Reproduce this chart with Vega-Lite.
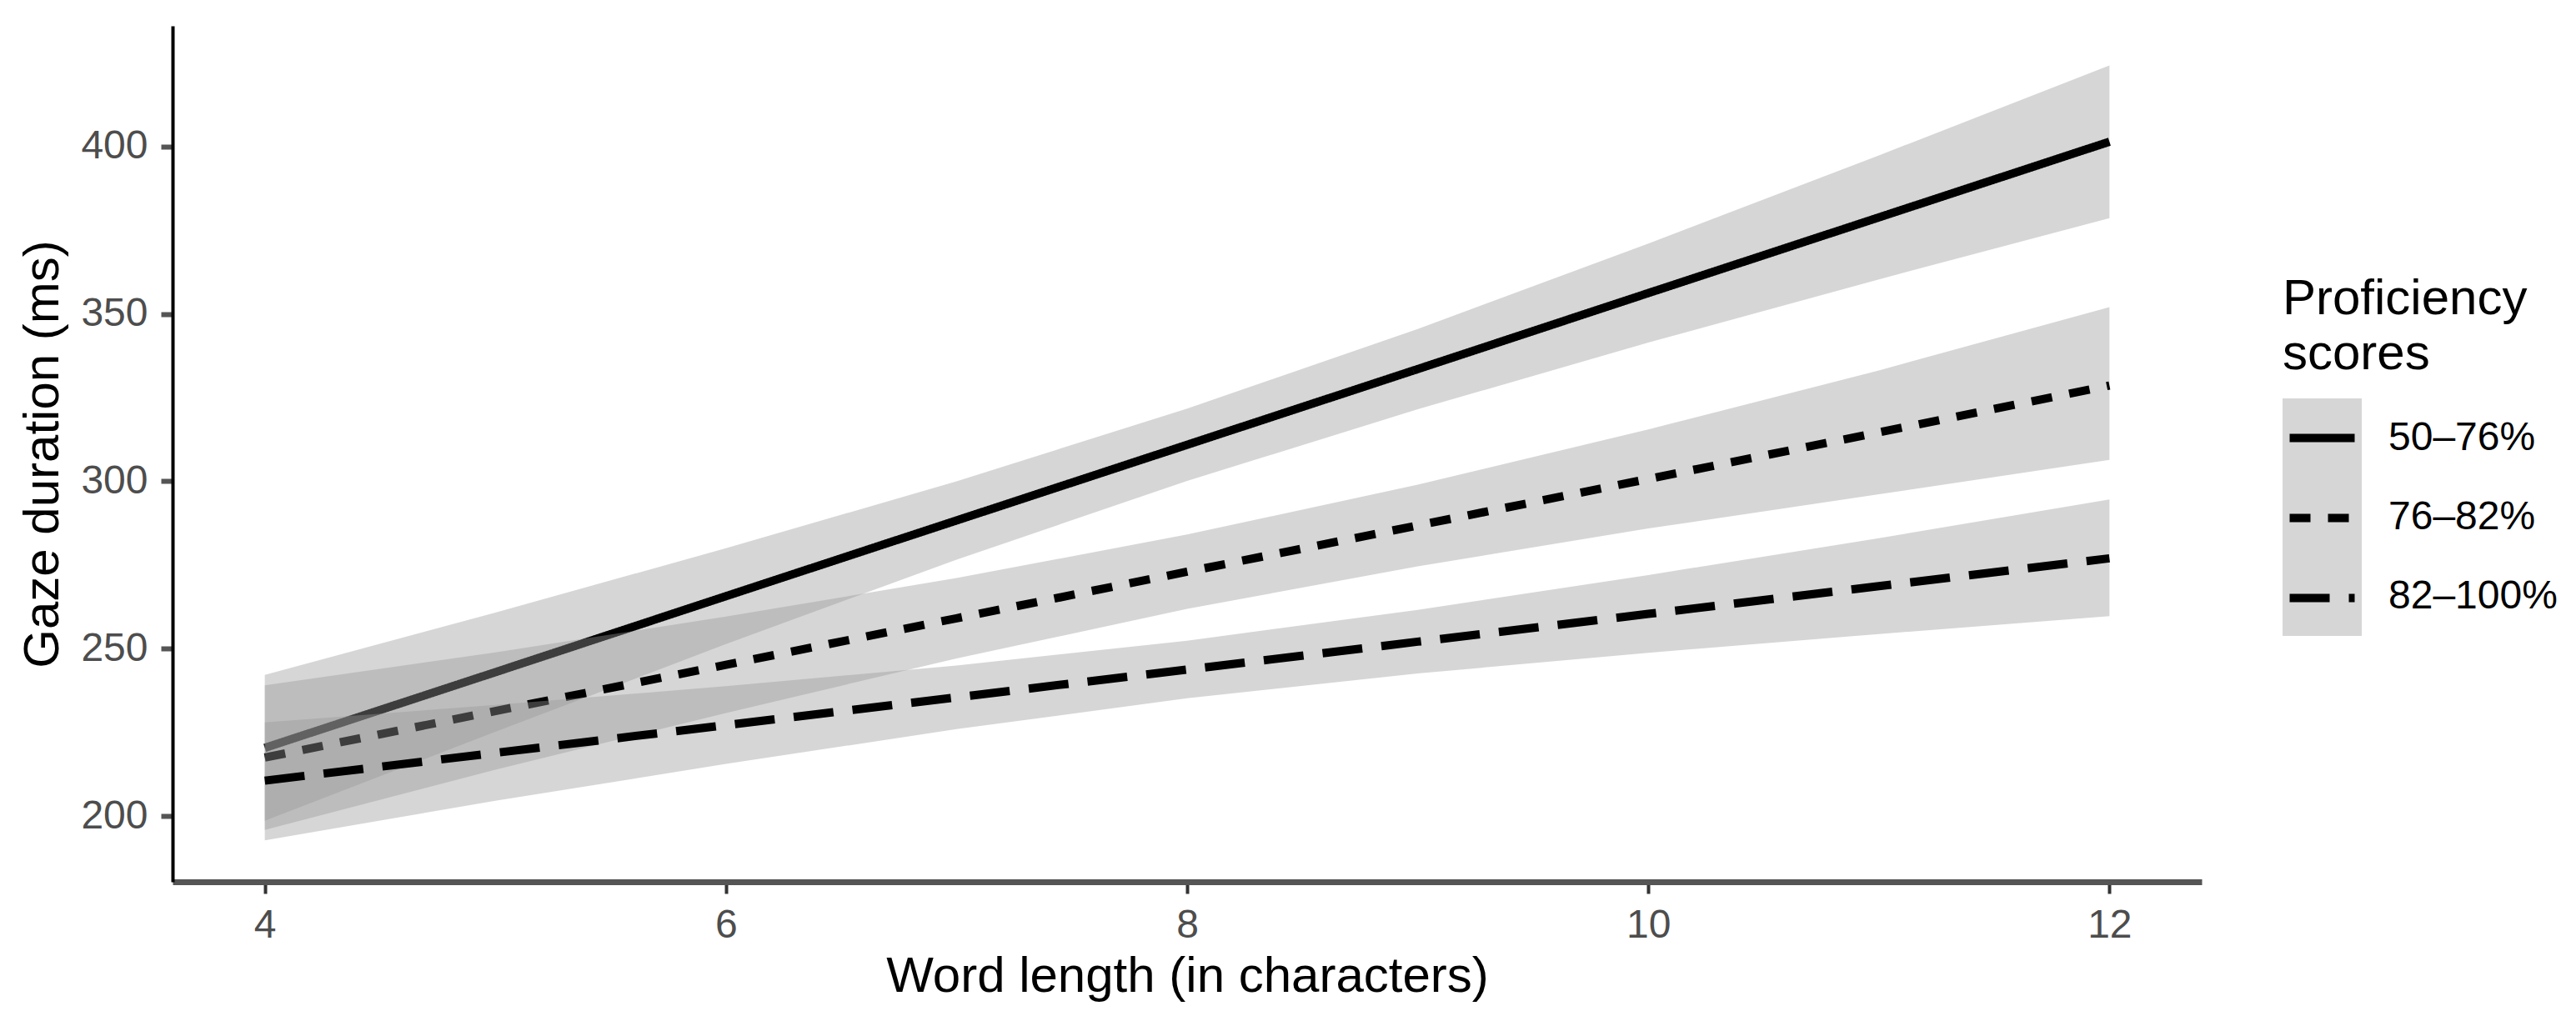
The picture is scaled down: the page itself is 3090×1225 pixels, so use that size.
{
  "$schema": "https://vega.github.io/schema/vega-lite/v6.json",
  "width": 2434,
  "height": 1027,
  "autosize": {"type": "none"},
  "padding": {"left": 207, "top": 31, "right": 449, "bottom": 167},
  "background": "white",
  "config": {
    "view": {"stroke": null},
    "font": "Liberation Sans",
    "axis": {
      "grid": false,
      "labelFont": "Liberation Sans",
      "titleFont": "Liberation Sans",
      "labelFontSize": 48,
      "labelColor": "#4d4d4d",
      "titleFontSize": 60,
      "titleFontWeight": "normal",
      "titleColor": "#000000",
      "tickSize": 14
    },
    "axisX": {
      "domainColor": "#555555",
      "domainWidth": 7,
      "tickColor": "#333333",
      "tickWidth": 4,
      "labelPadding": 14,
      "titleY": 131.5,
      "titleBaseline": "alphabetic"
    },
    "axisY": {
      "domainColor": "#000000",
      "domainWidth": 4,
      "tickColor": "#555555",
      "tickWidth": 6,
      "labelPadding": 16,
      "titleX": -138,
      "titleY": 513.5,
      "titleBaseline": "alphabetic"
    }
  },
  "data": {
    "values": [
      {"group": "50–76%", "x": 4, "fit": 220.4, "lo": 198.6, "hi": 242.2},
      {"group": "50–76%", "x": 5, "fit": 243.0, "lo": 225.2, "hi": 260.8},
      {"group": "50–76%", "x": 6, "fit": 265.7, "lo": 251.4, "hi": 280.0},
      {"group": "50–76%", "x": 7, "fit": 288.3, "lo": 276.6, "hi": 300.0},
      {"group": "50–76%", "x": 8, "fit": 310.9, "lo": 300.1, "hi": 321.7},
      {"group": "50–76%", "x": 9, "fit": 333.5, "lo": 321.5, "hi": 345.5},
      {"group": "50–76%", "x": 10, "fit": 356.2, "lo": 341.4, "hi": 371.0},
      {"group": "50–76%", "x": 11, "fit": 378.8, "lo": 360.3, "hi": 397.3},
      {"group": "50–76%", "x": 12, "fit": 401.4, "lo": 378.6, "hi": 424.2},
      {"group": "76–82%", "x": 4, "fit": 217.5, "lo": 195.9, "hi": 239.1},
      {"group": "76–82%", "x": 5, "fit": 231.4, "lo": 213.9, "hi": 248.9},
      {"group": "76–82%", "x": 6, "fit": 245.2, "lo": 230.8, "hi": 259.6},
      {"group": "76–82%", "x": 7, "fit": 259.1, "lo": 247.1, "hi": 271.1},
      {"group": "76–82%", "x": 8, "fit": 273.0, "lo": 261.9, "hi": 284.1},
      {"group": "76–82%", "x": 9, "fit": 286.8, "lo": 274.6, "hi": 299.0},
      {"group": "76–82%", "x": 10, "fit": 300.7, "lo": 285.9, "hi": 315.5},
      {"group": "76–82%", "x": 11, "fit": 314.6, "lo": 296.1, "hi": 333.1},
      {"group": "76–82%", "x": 12, "fit": 328.6, "lo": 306.4, "hi": 352.0},
      {"group": "82–100%", "x": 4, "fit": 210.6, "lo": 192.8, "hi": 228.0},
      {"group": "82–100%", "x": 5, "fit": 218.9, "lo": 204.6, "hi": 233.2},
      {"group": "82–100%", "x": 6, "fit": 227.2, "lo": 215.6, "hi": 238.8},
      {"group": "82–100%", "x": 7, "fit": 235.5, "lo": 226.0, "hi": 245.0},
      {"group": "82–100%", "x": 8, "fit": 243.8, "lo": 235.2, "hi": 252.4},
      {"group": "82–100%", "x": 9, "fit": 252.1, "lo": 242.6, "hi": 261.6},
      {"group": "82–100%", "x": 10, "fit": 260.4, "lo": 248.8, "hi": 272.0},
      {"group": "82–100%", "x": 11, "fit": 268.7, "lo": 254.4, "hi": 283.0},
      {"group": "82–100%", "x": 12, "fit": 277.0, "lo": 259.7, "hi": 294.6}
    ]
  },
  "layer": [
    {
      "transform": [{"filter": {"field": "group", "equal": "50–76%"}}],
      "mark": {"type": "area", "opacity": 0.4},
      "encoding": {
        "x": {"field": "x", "type": "quantitative", "scale": {"domain": [3.6, 12.4], "nice": false, "zero": false}, "axis": {"values": [4, 6, 8, 10, 12], "format": "d", "title": "Word length (in characters)"}},
        "y": {"field": "lo", "type": "quantitative", "scale": {"domain": [180.4, 436], "nice": false, "zero": false}, "axis": {"values": [200, 250, 300, 350, 400], "format": "d", "title": "Gaze duration (ms)"}},
        "y2": {"field": "hi"},
        "fill": {
          "field": "group", "type": "nominal",
          "scale": {"domain": ["50–76%", "76–82%", "82–100%"], "range": ["#999999", "#999999", "#999999"]},
          "legend": {
            "title": ["Proficiency", "scores"],
            "orient": "none", "legendX": 2531, "legendY": 299, "padding": 0,
            "symbolType": "square", "symbolSize": 9025, "symbolStrokeWidth": 0, "symbolOpacity": 0.4,
            "rowPadding": 0,
            "titleFont": "Liberation Sans", "titleFontSize": 60, "titleFontWeight": "normal", "titleColor": "#000000",
            "titleLineHeight": 66, "titlePadding": 22, "titleLimit": 1000,
            "labelFont": "Liberation Sans", "labelFontSize": 48, "labelColor": "#000000", "labelOffset": 32, "labelLimit": 1000
          }
        }
      }
    },
    {
      "transform": [{"filter": {"field": "group", "equal": "50–76%"}}],
      "mark": {"type": "line", "color": "#000000", "strokeWidth": 10},
      "encoding": {
        "x": {"field": "x", "type": "quantitative"},
        "y": {"field": "fit", "type": "quantitative"},
        "strokeDash": {
          "field": "group", "type": "nominal",
          "scale": {"range": [[1, 0], [25, 21], [48, 23]]},
          "legend": {
            "title": null,
            "orient": "none", "legendX": 2534.5, "legendY": 450.5, "padding": 0,
            "symbolType": "stroke", "symbolSize": 6084, "symbolStrokeWidth": 10, "symbolStrokeColor": "#000000",
            "rowPadding": 28, "labelExpr": "''", "labelFontSize": 48
          }
        }
      }
    },
    {
      "transform": [{"filter": {"field": "group", "equal": "76–82%"}}],
      "mark": {"type": "area", "opacity": 0.4},
      "encoding": {
        "x": {"field": "x", "type": "quantitative"},
        "y": {"field": "lo", "type": "quantitative"},
        "y2": {"field": "hi"},
        "fill": {"field": "group", "type": "nominal"}
      }
    },
    {
      "transform": [{"filter": {"field": "group", "equal": "76–82%"}}],
      "mark": {"type": "line", "color": "#000000", "strokeWidth": 10},
      "encoding": {
        "x": {"field": "x", "type": "quantitative"},
        "y": {"field": "fit", "type": "quantitative"},
        "strokeDash": {"field": "group", "type": "nominal"}
      }
    },
    {
      "transform": [{"filter": {"field": "group", "equal": "82–100%"}}],
      "mark": {"type": "area", "opacity": 0.4},
      "encoding": {
        "x": {"field": "x", "type": "quantitative"},
        "y": {"field": "lo", "type": "quantitative"},
        "y2": {"field": "hi"},
        "fill": {"field": "group", "type": "nominal"}
      }
    },
    {
      "transform": [{"filter": {"field": "group", "equal": "82–100%"}}],
      "mark": {"type": "line", "color": "#000000", "strokeWidth": 10},
      "encoding": {
        "x": {"field": "x", "type": "quantitative"},
        "y": {"field": "fit", "type": "quantitative"},
        "strokeDash": {"field": "group", "type": "nominal"}
      }
    }
  ]
}
